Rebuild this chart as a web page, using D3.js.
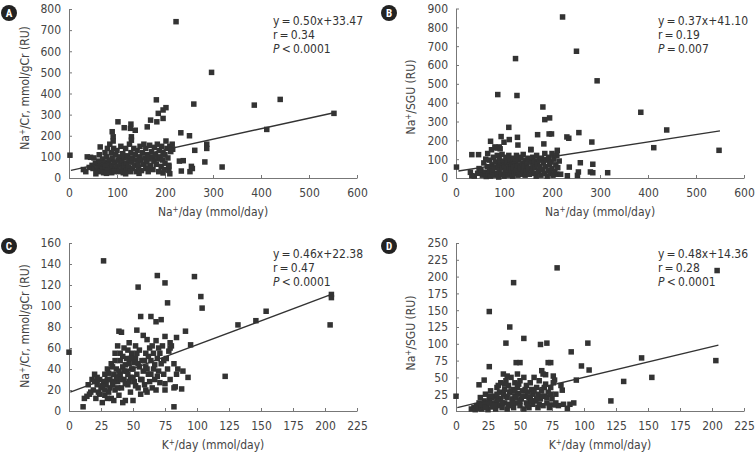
<!DOCTYPE html>
<html>
<head>
<meta charset="utf-8">
<script src="https://cdn.jsdelivr.net/npm/d3@7"></script>
<style>
  body { margin: 0; background: #fff; }
  text { font-family: "Liberation Sans Narrow", "DejaVu Sans Condensed", "Roboto", sans-serif; font-stretch: condensed; }
</style>
</head>
<body>
<div id="chart"></div>
<script>
"use strict";

// data ///////////////////////////
// A: Na+/day vs Na+/Cr
var pointsA = [
  [2,108],[223,740],[297,500],[182,370],[260,350],[386,345],[440,372],[412,230],[552,306],
  [233,214],[251,200],[262,131],[287,160],[287,140],[283,76],[319,52],[230,80],[238,82],
  [234,33],[255,55],[257,45],[252,30],[208,55],[208,36],[196,24],[210,20],[216,136],
  [102,266],[128,235],[129,255],[138,226],[115,238],[170,274],[183,266],[186,306],[196,322],
  [202,333],[196,282],[163,242],[90,219],[92,195],[130,195],[130,179],[65,147],
  [30,40],[35,30],[38,100],[45,98],[48,60],[50,45],[52,95],[55,70],[58,35],[60,50],[62,80],
  [63,110],[65,30],[68,60],[70,90],[70,40],[72,25],[74,75],[75,120],[76,55],[78,100],
  [80,35],[80,140],[82,65],[84,85],[85,160],[86,45],[88,120],[89,25],[90,95],[90,60],
  [92,175],[93,140],[95,75],[96,40],[97,110],[100,55],[100,130],[102,85],[104,30],
  [105,100],[106,65],[108,150],[110,45],[110,80],[112,115],[113,25],[115,95],[116,60],
  [118,140],[120,70],[120,35],[122,105],[124,50],[125,85],[126,160],[128,30],[129,120],
  [130,75],[132,95],[133,45],[135,140],[136,60],[138,110],[140,85],[140,30],[142,130],
  [144,70],[145,50],[147,100],[148,150],[150,85],[151,35],[153,120],[155,65],[156,160],
  [158,95],[160,45],[160,140],[162,75],[164,110],[165,30],[167,90],[168,155],[170,60],
  [172,125],[174,100],[175,40],[177,80],[178,145],[180,110],[182,65],[184,160],[185,90],
  [187,30],[188,130],[190,100],[192,55],[193,150],[195,85],[196,120],[198,40],[200,110],
  [200,70],[202,175],[204,140],[206,95],[208,60],[210,150],[212,125],[215,160],
  [42,50],[56,20],[66,70],[78,22],[94,30],[118,20],[146,22],[166,48]
];
var lineA = [[4,36],[552,309]];
var statsA = ["y\u2009=\u20090.50x+33.47", "r\u2009=\u20090.34", "\u2009<\u20090.0001"];

// B: Na+/day vs Na+/SGU
var pointsB = [
  [222,855],[251,673],[294,516],[124,634],[87,443],[127,438],[385,349],[439,255],[412,161],
  [548,147],[181,377],[185,310],[195,319],[194,234],[199,234],[110,269],[170,230],[128,216],
  [231,218],[235,211],[256,241],[283,191],[72,195],[94,220],[100,190],[111,204],[129,175],
  [81,165],[87,160],[90,165],[183,181],[211,147],[156,152],[33,124],[47,124],[1,58],
  [259,81],[285,73],[280,32],[285,28],[316,28],[255,32],[253,14],[232,12],[236,58],[210,20],
  [30,30],[33,12],[38,10],[45,25],[48,50],[52,40],[55,15],[58,80],[60,30],[62,100],[63,8],
  [65,60],[66,130],[68,20],[70,45],[70,95],[72,10],[74,150],[75,70],[76,35],[78,110],
  [80,15],[80,55],[82,85],[84,160],[85,25],[86,120],[88,65],[89,5],[90,100],[90,40],
  [92,155],[93,75],[95,20],[96,125],[97,55],[98,90],[100,10],[100,70],[102,35],[104,110],
  [105,50],[106,85],[108,15],[110,60],[110,120],[112,30],[113,95],[115,45],[116,75],
  [118,10],[120,105],[120,55],[122,25],[124,80],[125,40],[126,120],[128,65],[129,15],
  [130,95],[132,35],[133,55],[135,110],[136,20],[138,80],[140,45],[140,125],[142,60],
  [144,15],[145,95],[147,35],[148,70],[150,105],[151,50],[153,20],[155,85],[156,150],
  [158,40],[160,65],[160,110],[162,25],[164,90],[165,55],[167,10],[168,120],[170,75],
  [172,35],[174,95],[175,60],[177,15],[178,105],[180,45],[182,80],[184,25],[185,130],
  [187,60],[188,95],[190,10],[192,40],[193,110],[195,70],[196,25],[198,85],[200,50],
  [200,130],[202,15],[204,100],[206,35],[208,70],[210,120],[212,55],[215,90],[218,20]
];
var lineB = [[5,37],[550,250]];
var statsB = ["y\u2009=\u20090.37x+41.10", "r\u2009=\u20090.19", "\u2009=\u20090.007"];

// C: K+/day vs Na+/Cr
var pointsC = [
  [0,56],[27,143],[54,118],[69,129],[75,122],[98,128],[77,103],[103,109],[104,98],
  [56,90],[64,90],[72,87],[68,85],[132,82],[146,86],[154,95],[205,111],[205,108],[204,82],
  [122,33],[91,76],[95,63],[84,70],[75,71],[79,65],[89,38],[93,32],[83,23],[82,22],[88,21],
  [82,4],[11,4],[39,76],[53,77],[61,68],[68,67],
  [12,12],[14,14],[16,16],[18,30],[19,20],[20,35],[21,12],[22,25],[23,18],[24,30],[25,22],
  [26,8],[27,28],[28,15],[28,35],[29,25],[30,40],[31,18],[32,30],[33,12],[33,45],[34,25],
  [35,35],[36,20],[36,55],[37,40],[38,28],[38,62],[39,15],[40,48],[40,35],[41,22],[41,75],
  [42,42],[43,30],[43,60],[44,10],[45,50],[45,38],[46,25],[47,65],[47,45],[48,32],[48,18],
  [49,55],[50,40],[50,10],[51,28],[52,50],[52,62],[53,35],[54,22],[54,45],[55,58],[56,30],
  [56,16],[57,48],[58,38],[58,72],[59,25],[60,55],[60,42],[61,18],[62,35],[63,60],[63,28],
  [64,48],[65,22],[66,40],[66,55],[67,30],[68,20],[69,50],[70,38],[70,60],[71,27],[72,45],
  [73,62],[74,35],[75,26],[76,50],[78,57],[79,30],[80,62],[82,45],[85,40],
  [15,25],[17,18],[20,28],[22,32],[24,16],[26,24],[28,20],[30,30],[31,36],[32,22],[34,42],
  [35,28],[36,48],[37,32],[38,22],[39,38],[40,55],[41,30],[42,52],[43,38],[44,44],[44,26],
  [46,35],[46,58],[47,28],[48,50],[49,40],[50,32],[51,46],[52,24],[53,55],[55,42],[57,30],
  [59,48],[61,40],[62,52],[64,35],[65,62],[67,44],[69,33],[71,55],[74,48],[77,40],[79,60],
  [30,12],[35,10],[42,8],[60,20],[75,20],[84,35]
];
var lineC = [[1,18],[205,111]];
var statsC = ["y\u2009=\u20090.46x+22.38", "r\u2009=\u20090.47", "\u2009<\u20090.0001"];

// D: K+/day vs Na+/SGU
var pointsD = [
  [0,22],[26,148],[45,191],[79,213],[204,209],[42,125],[53,108],[39,101],[71,101],[66,99],
  [103,101],[90,88],[98,67],[104,61],[94,46],[74,72],[72,72],[47,72],[50,72],[26,66],
  [145,79],[153,50],[131,44],[121,15],[203,75],[76,52],[77,46],[83,31],[70,54],[67,60],
  [89,10],[92,12],[87,4],[73,9],[77,9],[22,46],[18,39],
  [12,3],[14,5],[15,2],[16,8],[17,4],[18,12],[19,20],[20,3],[21,6],[22,15],[23,25],[24,10],
  [25,2],[26,18],[27,30],[28,6],[29,12],[30,22],[31,3],[32,35],[32,15],[33,8],[34,28],
  [35,42],[35,18],[36,5],[37,25],[37,55],[38,12],[38,32],[39,45],[40,20],[40,3],[41,38],
  [42,28],[42,10],[43,50],[44,18],[45,32],[45,5],[46,42],[46,22],[47,12],[48,35],[48,55],
  [49,26],[50,8],[50,45],[51,18],[52,30],[53,3],[53,50],[54,22],[55,38],[55,12],[56,28],
  [57,5],[58,42],[58,18],[59,32],[60,10],[60,25],[61,50],[62,15],[63,35],[64,5],[64,25],
  [65,45],[66,18],[67,30],[68,8],[68,55],[69,22],[70,40],[71,12],[72,28],[73,5],[74,35],
  [75,18],[76,42],[78,25],[80,8],[82,38],[84,10],
  [20,10],[23,5],[26,12],[28,20],[30,8],[32,25],[33,18],[36,12],[38,40],[39,22],[41,8],
  [43,30],[44,12],[46,30],[47,20],[49,40],[50,15],[52,22],[54,32],[56,8],[57,20],[59,15],
  [61,30],[63,18],[65,10],[67,22],[69,35],[71,20],[74,25],[78,12],[33,38],[40,52],[27,22]
];
var lineD = [[1,5],[205,98]];
var statsD = ["y\u2009=\u20090.48x+14.36", "r\u2009=\u20090.28", "\u2009<\u20090.0001"];

// tick values
var naTicks = [0, 100, 200, 300, 400, 500, 600];
var kTicks = [0, 25, 50, 75, 100, 125, 150, 175, 200, 225];
var crTicksA = [0, 100, 200, 300, 400, 500, 600, 700, 800];
var sguTicksB = [0, 100, 200, 300, 400, 500, 600, 700, 800, 900];
var crTicksC = [0, 20, 40, 60, 80, 100, 120, 140, 160];
var sguTicksD = [0, 25, 50, 75, 100, 125, 150, 175, 200, 225, 250];

//SVG setup///////////////////////////
var width = 755, height = 455;
var svg = d3.select('#chart')
    .append('svg')
    .attr('width', width)
    .attr('height', height);

var panels = [
  {letter: 'A', pts: pointsA, line: lineA, stats: statsA, xTicks: naTicks, yTicks: crTicksA,
   xName: 'Na', yMain: 'Na', ySuffix: '/Cr, mmol/gCr (RU)',
   left: 69, right: 357, top: 9, bottom: 178, badge: [9, 13], yLabelX: 29, yLabelY: 88, textX: 273, textY: 21},
  {letter: 'B', pts: pointsB, line: lineB, stats: statsB, xTicks: naTicks, yTicks: sguTicksB,
   xName: 'Na', yMain: 'Na', ySuffix: '/SGU (RU)',
   left: 456, right: 744, top: 8.5, bottom: 178, badge: [389, 13], yLabelX: 415, yLabelY: 97, textX: 658, textY: 21},
  {letter: 'C', pts: pointsC, line: lineC, stats: statsC, xTicks: kTicks, yTicks: crTicksC,
   xName: 'K', yMain: 'Na', ySuffix: '/Cr, mmol/gCr (RU)',
   left: 69, right: 357, top: 243, bottom: 411, badge: [9, 246], yLabelX: 29, yLabelY: 326, textX: 273, textY: 254},
  {letter: 'D', pts: pointsD, line: lineD, stats: statsD, xTicks: kTicks, yTicks: sguTicksD,
   xName: 'K', yMain: 'Na', ySuffix: '/SGU (RU)',
   left: 456, right: 744, top: 243, bottom: 411, badge: [389, 246], yLabelX: 415, yLabelY: 333, textX: 658, textY: 254}
];

panels.forEach(drawPanel);

//draw one scatter panel
function drawPanel(p) {
    var x = d3.scaleLinear()
        .domain([0, d3.max(p.xTicks)])
        .range([p.left, p.right]);
    var y = d3.scaleLinear()
        .domain([0, d3.max(p.yTicks)])
        .range([p.bottom, p.top]);

    var g = svg.append('g');

    // axes
    var xAxis = g.append('g')
        .attr('transform', 'translate(0,' + p.bottom + ')')
        .call(d3.axisBottom(x).tickValues(p.xTicks).tickSize(-3).tickSizeOuter(0).tickPadding(10));
    var yAxis = g.append('g')
        .attr('transform', 'translate(' + p.left + ',0)')
        .call(d3.axisLeft(y).tickValues(p.yTicks).tickSize(-3).tickSizeOuter(0).tickPadding(8));

    [xAxis, yAxis].forEach(function(a) {
        a.select('.domain').attr('stroke', '#777').attr('stroke-width', 1);
        a.selectAll('.tick line').attr('stroke', '#777');
        a.selectAll('.tick text')
            .attr('fill', '#444')
            .style('font-size', '12px');
    });

    // points
    var s = 5.5;
    g.append('g').selectAll('rect')
        .data(p.pts)
        .enter()
        .append('rect')
        .attr('x', function(d) { return x(d[0]) - s / 2; })
        .attr('y', function(d) { return y(d[1]) - s / 2; })
        .attr('width', s)
        .attr('height', s)
        .attr('fill', '#333');

    // fit line
    g.append('line')
        .attr('x1', x(p.line[0][0]))
        .attr('y1', y(p.line[0][1]))
        .attr('x2', x(p.line[1][0]))
        .attr('y2', y(p.line[1][1]))
        .attr('stroke', '#333')
        .attr('stroke-width', 1.4);

    // stats text
    var st = g.append('g').attr('fill', '#333').style('font-size', '12px');
    st.append('text').attr('x', p.textX).attr('y', p.textY + 4).text(p.stats[0]);
    st.append('text').attr('x', p.textX).attr('y', p.textY + 18).text(p.stats[1]);
    var pt = st.append('text').attr('x', p.textX).attr('y', p.textY + 32);
    pt.append('tspan').style('font-style', 'italic').text('P');
    pt.append('tspan').text(p.stats[2]);

    // x label
    var xl = g.append('text')
        .attr('x', (p.left + p.right) / 2)
        .attr('y', p.bottom + 38)
        .attr('text-anchor', 'middle')
        .attr('fill', '#444')
        .style('font-size', '12px');
    xl.append('tspan').text(p.xName);
    xl.append('tspan').attr('dy', -4).style('font-size', '8px').text('+');
    xl.append('tspan').attr('dy', 4).text('/day (mmol/day)');

    // y label
    var yl = g.append('text')
        .attr('transform', 'translate(' + p.yLabelX + ',' + p.yLabelY + ') rotate(-90)')
        .attr('text-anchor', 'middle')
        .attr('fill', '#444')
        .style('font-size', '12px');
    yl.append('tspan').text(p.yMain);
    yl.append('tspan').attr('dy', -4).style('font-size', '8px').text('+');
    yl.append('tspan').attr('dy', 4).text(p.ySuffix);

    // badge
    g.append('circle')
        .attr('cx', p.badge[0])
        .attr('cy', p.badge[1])
        .attr('r', 8)
        .attr('fill', '#222');
    g.append('text')
        .attr('x', p.badge[0])
        .attr('y', p.badge[1] + 4)
        .attr('text-anchor', 'middle')
        .attr('fill', '#fff')
        .style('font-family', 'Roboto, sans-serif')
        .style('font-weight', 'bold')
        .style('font-size', '11px')
        .text(p.letter);
}
</script>
</body>
</html>
